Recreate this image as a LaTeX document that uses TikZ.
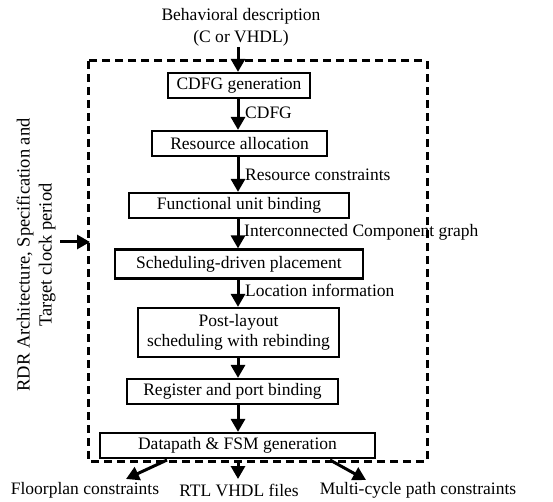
\documentclass[tikz,border=0pt]{standalone}
\usepackage{fontspec}
\setmainfont{Liberation Serif}
\usetikzlibrary{arrows.meta}
\begin{document}
\begin{tikzpicture}[x=1pt,y=-1pt,
  every node/.style={font=\fontsize{17.5}{20}\selectfont, inner sep=0pt},
  stepbox/.style={draw, line width=2.2pt, rectangle, align=center},
  arr/.style={line width=3pt, -{Triangle[width=14pt,length=13pt]}},
  lbl/.style={anchor=west}
]
\useasboundingbox (0,0) rectangle (553,502);
% dashed frame
\draw[line width=3pt, dash pattern=on 8pt off 5pt] (88,61) rectangle (427,461);

\node (in1) at (241,16) {Behavioral description};
\node (in2) at (241,38) {(C or VHDL)};

\node[stepbox, minimum width=142pt, minimum height=25pt] (cdfg) at (239,85.5) {CDFG generation};
\node[stepbox, minimum width=175pt, minimum height=25pt] (res) at (239.5,143.5) {Resource allocation};
\node[stepbox, minimum width=220pt, minimum height=25pt] (fub) at (239,205.5) {Functional unit binding};
\node[stepbox, minimum width=248pt, minimum height=29pt] (sdp) at (239,264) {Scheduling-driven placement};
\node[stepbox, minimum width=201pt, minimum height=49pt] (post) at (238.5,332.5) {Post-layout\\[0pt]scheduling with rebinding};
\node[stepbox, minimum width=211pt, minimum height=25pt] (reg) at (232.5,391.5) {Register and port binding};
\node[stepbox, minimum width=275pt, minimum height=25pt] (dp) at (237.5,445.5) {Datapath \& FSM generation};

\coordinate (spine) at (238,0);
\coordinate (top) at (238,47);

\draw[arr] (top) -- (cdfg.north -| spine);
\draw[arr] (cdfg.south -| spine) -- (res.north -| spine);
\draw[arr] (res.south -| spine) -- (fub.north -| spine);
\draw[arr] (fub.south -| spine) -- (sdp.north -| spine);
\draw[arr] (sdp.south -| spine) -- (post.north -| spine);
\draw[arr] (post.south -| spine) -- (reg.north -| spine);
\draw[arr] (reg.south -| spine) -- (dp.north -| spine);

\node[lbl] (l1) at (245,113) {CDFG};
\node[lbl] (l2) at (245,175) {Resource constraints};
\node[lbl] (l3) at (244,232) {Interconnected Component graph};
\node[lbl] (l4) at (245,290) {Location information};

% left input
\node[rotate=90, align=center, font=\fontsize{18.5}{21}\selectfont] (side) at (36,255) {RDR Architecture, Specification and\\[1pt]Target clock period};
\coordinate (sidestart) at (60,242);
\coordinate (sideend) at (90,242);
\draw[arr] (sidestart) -- (sideend);

% outputs
\node (fl) at (85,490) {Floorplan constraints};
\node (rtl) at (239,490) {RTL VHDL files};
\node (mc) at (418,490) {Multi-cycle path constraints};
\coordinate (o1s) at (167,460);
\coordinate (o1e) at (126,479);
\coordinate (o2s) at (238,460);
\coordinate (o2e) at (238,479);
\coordinate (o3s) at (330,460);
\coordinate (o3e) at (366,480);
\draw[arr] (o1s) -- (o1e);
\draw[arr] (o2s) -- (o2e);
\draw[arr] (o3s) -- (o3e);
\end{tikzpicture}
\end{document}
